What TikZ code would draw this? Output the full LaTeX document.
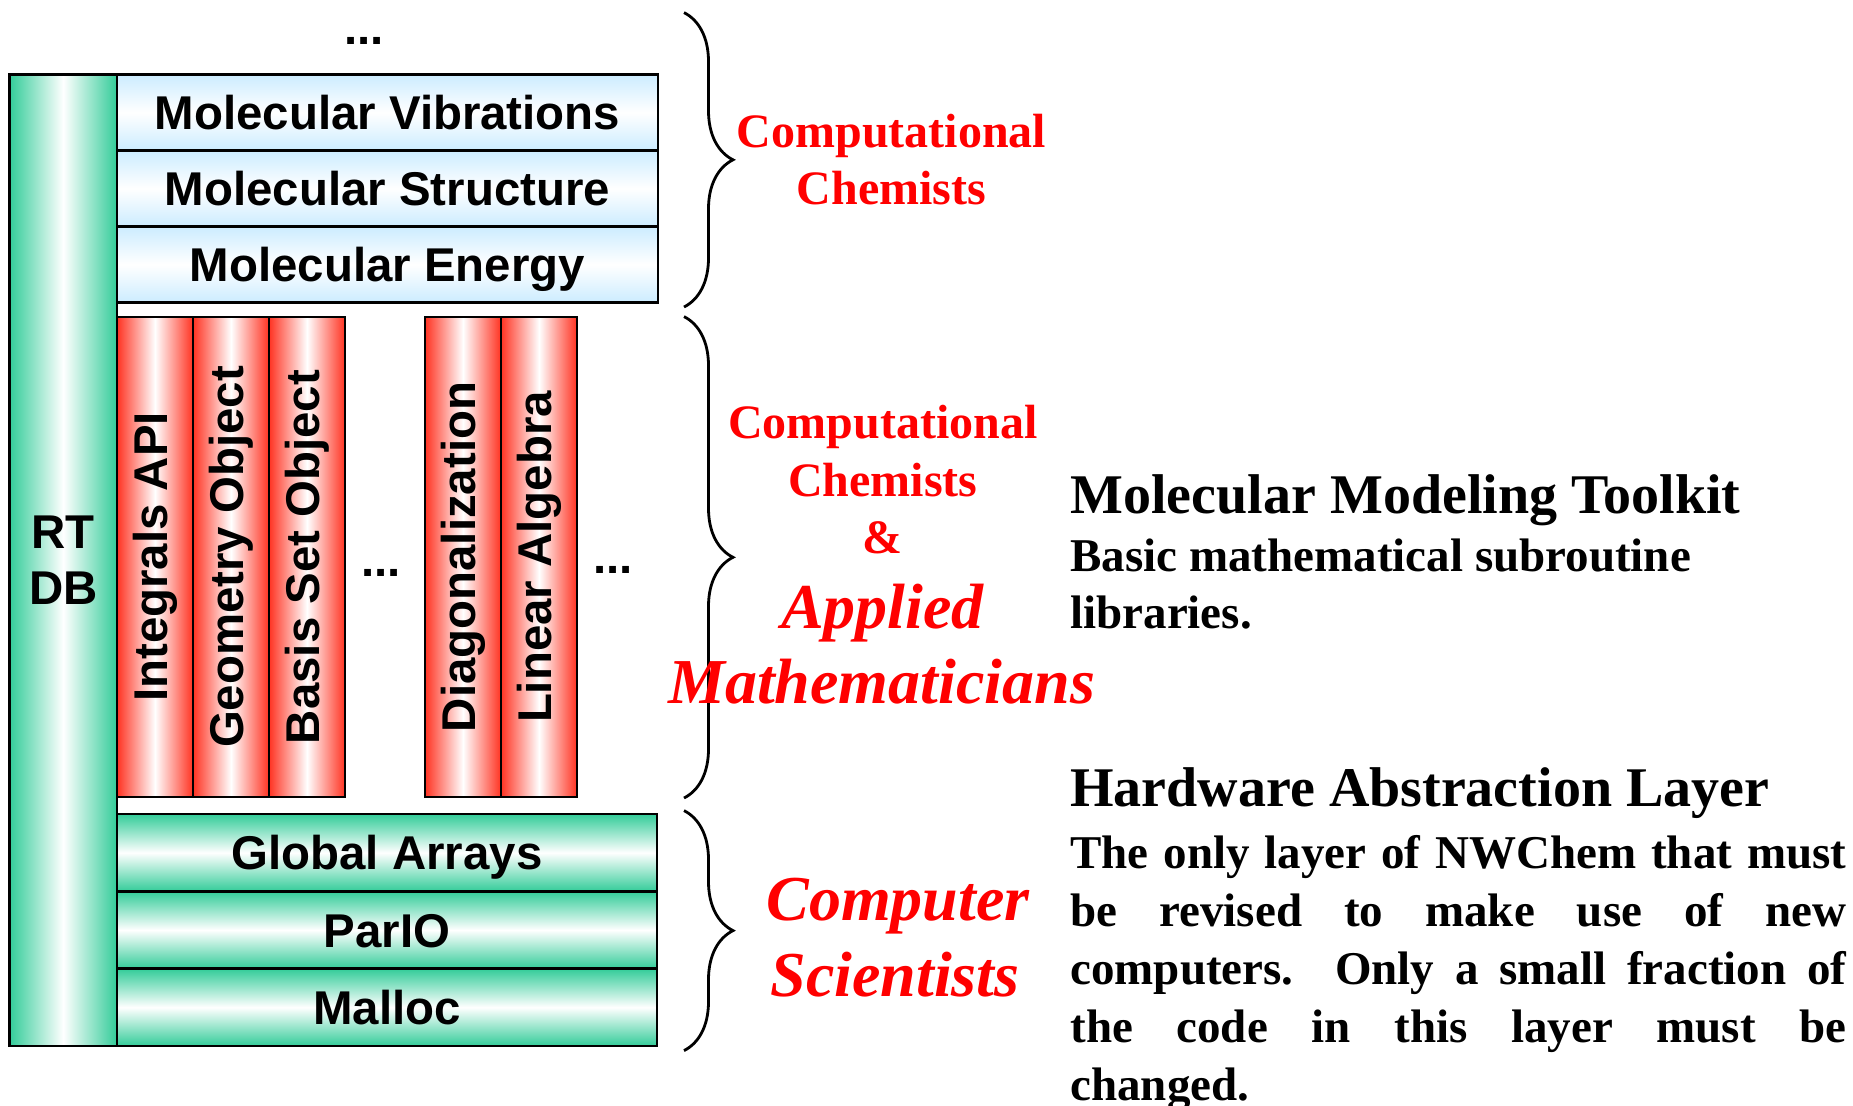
\documentclass[tikz,border=0pt]{standalone}
\usepackage{fontspec}
\setmainfont{Liberation Serif}
\setsansfont{Liberation Sans}
\usepackage{tikz}
\usetikzlibrary{positioning, decorations.pathreplacing}

\definecolor{layergreen}{RGB}{51,204,153}
\definecolor{layerred}{RGB}{255,51,34}
\definecolor{layerblue}{RGB}{204,236,255}

\begin{document}
\begin{tikzpicture}[x=1pt, y=-1pt,
    slab/.style={draw=black, line width=1.3pt, outer sep=0pt, inner sep=0pt, font=\sffamily\bfseries\fontsize{23.7}{28}\selectfont},
    chem/.style={slab, minimum width=270.5pt, minimum height=38pt, text height=17pt, text depth=0pt, top color=layerblue, bottom color=layerblue, middle color=white},
    hal/.style={slab, minimum width=270pt, minimum height=38.67pt, text height=17pt, text depth=0pt, top color=layergreen, bottom color=layergreen, middle color=white},
    lib/.style={slab, minimum width=38pt, minimum height=240pt, left color=layerred, right color=layerred, middle color=white},
    db/.style={slab, minimum width=53.75pt, minimum height=485.75pt, align=center, left color=layergreen, right color=layergreen, middle color=white},
    more/.style={inner sep=0pt, font=\sffamily\bfseries\fontsize{23.7}{28}\selectfont},
    who/.style={anchor=base, inner sep=0pt, text=red, font=\bfseries\fontsize{24}{28}\selectfont},
    whoit/.style={who, font=\bfseries\itshape\fontsize{32}{38}\selectfont},
    crew/.style={decorate, decoration={brace, amplitude=24.5pt}, line width=1.4pt},
    headline/.style={anchor=base west, inner sep=0pt, font=\bfseries\fontsize{28}{33}\selectfont},
    desc/.style={anchor=base west, inner sep=0pt, font=\bfseries\fontsize{23.5}{29}\selectfont}]
    \useasboundingbox (0,0) rectangle (926.5,552.5);

    % run time database
    \node[db] (rtdb) at (31.625,280.125) {RT\\DB};

    % chemistry layers
    \node[chem, anchor=north west] (vib) at (rtdb.north east) {Molecular Vibrations};
    \node[chem, below=0pt of vib] (struct) {Molecular Structure};
    \node[chem, below=0pt of struct] (energy) {Molecular Energy};
    \node[more] (topmore) at (182,20.5) {...};

    % toolkit objects
    \node[lib, anchor=north west] (ints) at (58.5,158.5) {\rotatebox{90}{Integrals API}};
    \node[lib, right=0pt of ints] (geom) {\rotatebox{90}{Geometry Object}};
    \node[lib, right=0pt of geom] (basis) {\rotatebox{90}{Basis Set Object}};
    \node[lib, right=40pt of basis] (diag) {\rotatebox{90}{Diagonalization}};
    \node[lib, right=0pt of diag] (linalg) {\rotatebox{90}{Linear Algebra}};
    \node[more] (midmore) at (190.5,286.5) {...};
    \node[more] (endmore) at (306.5,285) {...};

    % hardware abstraction
    \node[hal, anchor=south west] (malloc) at (rtdb.south east) {Malloc};
    \node[hal, above=0pt of malloc] (pario) {ParIO};
    \node[hal, above=0pt of pario] (ga) {Global Arrays};

    % who writes what
    \draw[crew] (342,6.3) -- (342,153.5);
    \draw[crew] (342,158.3) -- (342,399);
    \draw[crew] (342,405.3) -- (342,525.3);

    \node[who] (cc1) at (445.8,73.8) {Computational};
    \node[who] (cc2) at (445.8,102) {Chemists};
    \node[who] (cm1) at (441.5,219) {Computational};
    \node[who] (cm2) at (441.5,248.3) {Chemists};
    \node[who] (cm3) at (441.3,276.7) {\&};
    \node[whoit] (cm4) at (441.3,314) {Applied};
    \node[whoit] (cm5) at (440.8,351.7) {Mathematicians};
    \node[whoit] (cs1) at (449,460) {Computer};
    \node[whoit] (cs2) at (447.5,498.3) {Scientists};

    \node[headline] (mmt) at (535,256.5) {Molecular Modeling Toolkit};
    \node[desc] (mmt1) at (535,285.5) {Basic mathematical subroutine};
    \node[desc] (mmt2) at (535,314) {libraries.};
    \node[headline] (hwl) at (535,403) {Hardware Abstraction Layer};
    \node[desc, text width=388pt, align=justify] (hwltext) at (535,434) {The only layer of NWChem that must\linebreak be revised to make use of new\linebreak computers.\ \ Only a small fraction of\linebreak the code in this layer must be\linebreak changed.};
\end{tikzpicture}
\end{document}
